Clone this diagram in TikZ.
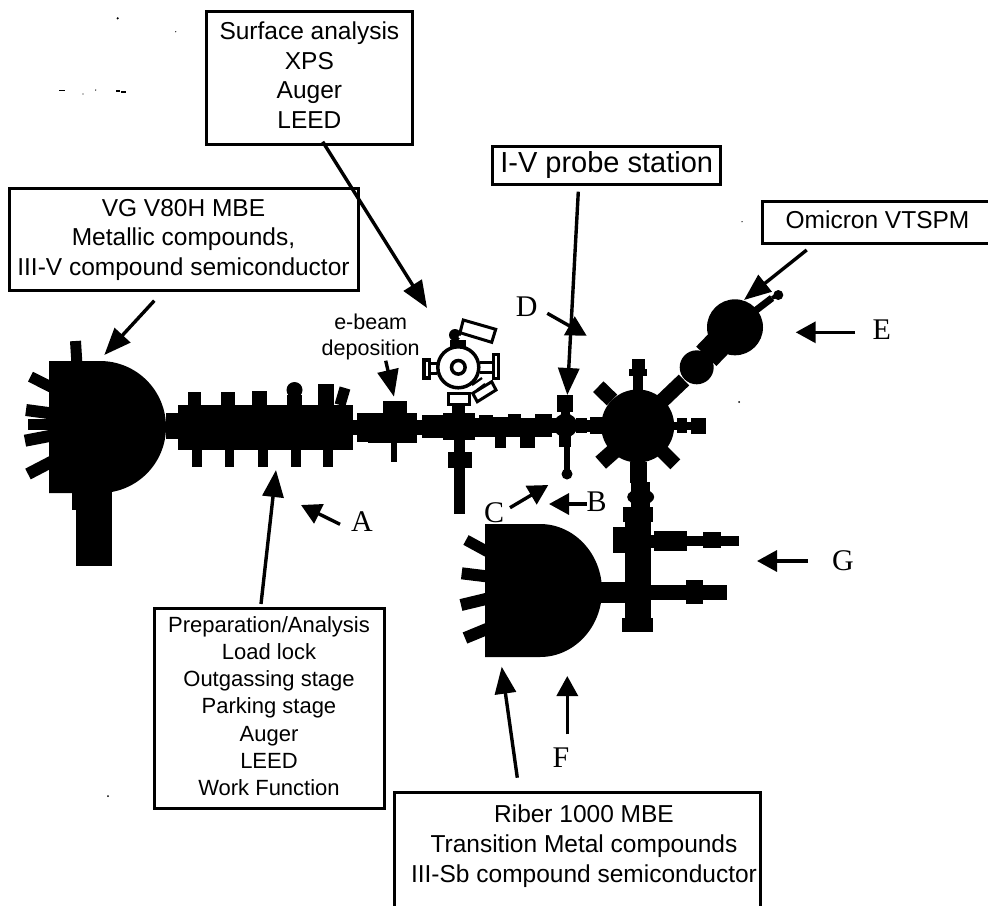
\documentclass[tikz,border=0pt]{standalone}
\usepackage{fontspec}
\setmainfont{Liberation Sans}
\newfontfamily\letterfont{Liberation Serif}
\usetikzlibrary{arrows.meta}
\tikzset{
  x=1pt,y=-1pt,
  infobox/.style={draw=black,line width=3pt,fill=white,inner sep=0pt,align=center},
  plaintext/.style={inner sep=0pt,align=center},
  bigtext/.style={font=\fontsize{24.5}{29.7}\selectfont},
  midtext/.style={font=\fontsize{22}{27.2}\selectfont},
  letter/.style={font=\letterfont\fontsize{30}{30}\selectfont,inner sep=0pt},
  pointer/.style={line width=3.4pt,-{Triangle[length=27pt,width=21pt]}},
  shortpointer/.style={line width=3.4pt,-{Triangle[length=20pt,width=21pt]}},
  port/.style={line width=#1,black,line cap=butt},
  outline/.style={draw=black,line width=3pt,fill=white},
  speck/.style={fill=black},
}
\begin{document}
\begin{tikzpicture}
\useasboundingbox (0,0) rectangle (988,905);
\clip (0,0) rectangle (988,905);
% ---------- VG chamber ----------
\fill (49,361) -- (100,361) .. controls (136.5,361) and (166,390.5) .. (166,427)
  .. controls (166,463.5) and (136.5,493) .. (100,493) -- (49,493) -- cycle;
\draw[port=11pt] (75.5,341) -- (77,365);
\draw[port=11pt] (30.5,376.7) -- (52,387.5);
\draw[port=12pt] (26,410) -- (52,413.5);
\draw[port=11pt] (28,424.7) -- (52,424.7);
\draw[port=12pt] (25,440.7) -- (52,435.5);
\draw[port=12pt] (28,474) -- (52,461.5);
\fill (76,490) rectangle (111.5,566);
\fill (72,490) rectangle (80,510);
% preparation line
\fill (166,413) rectangle (178,439);
\fill (178,405) rectangle (353,450);
\fill (188,392) rectangle (201,406);
\fill (221,392) rectangle (235,406);
\fill (252,391) rectangle (267,406);
\fill (287,395) rectangle (302,406);
\fill (294.5,390) circle[radius=8pt];
\fill (318,384) rectangle (334,406);
\draw[port=11pt] (345,388) -- (340,405);
\fill (192,449) rectangle (202,467);
\fill (225,449) rectangle (234,467);
\fill (258,449) rectangle (268,467);
\fill (291,449) rectangle (301,467);
\fill (323,449) rectangle (333,467);
% main tube
\fill (353,420) rectangle (357,435);
\fill (357,413) rectangle (368,442);
\fill (368,413) rectangle (417,443);
\fill (383,401) rectangle (407,414);
\fill (391,442) rectangle (397,462);
\fill (417,420) rectangle (422,435);
\fill (422,415) rectangle (443,438);
\fill (443,413) rectangle (475,440);
\fill (452,402) rectangle (465,414);
\fill (454,439) rectangle (465,453);
\fill (448,452) rectangle (472,468);
\fill (454,467) rectangle (465,514);
\fill (475,418) rectangle (479,437);
\fill (479,415) rectangle (493,437);
\fill (493,417) rectangle (508,437);
\fill (495,436) rectangle (506,448);
\fill (508,414) rectangle (521,437);
\fill (520,418) rectangle (535,437);
\fill (520,436) rectangle (535,448);
\fill (535,414) rectangle (552,437);
\fill (552,418) rectangle (558,433);
\fill (565.5,425.5) circle[radius=12pt];
\fill (557,395) rectangle (573,412);
\fill (561,410) rectangle (570,416);
\fill (559,435) rectangle (571,447);
\fill (564,446) rectangle (570,473);
\fill (567,474) circle[radius=5.5pt];
\fill (576,418) rectangle (587,433);
\fill (587,420) rectangle (592,432);
\fill (590,417) rectangle (605,434);
% central round chamber
\fill (637.7,426) circle[radius=36.5pt];
\fill (633,372) rectangle (643,392);
\fill (629,369) rectangle (647,376);
\fill (632,359) rectangle (645,370);
\draw[port=15pt] (598.3,386.7) -- (612,400);
\draw[port=16pt] (600.7,462.7) -- (615,450);
\draw[port=14pt] (675.3,464.3) -- (660,449);
\fill (670,422) rectangle (678,430);
\fill (677,418) rectangle (687,433);
\fill (686,422) rectangle (692,430);
\fill (691,418) rectangle (706,434);
% branch to Omicron
\draw[port=15pt] (662,401) -- (684,380);
\fill (696.7,367.3) circle[radius=17pt];
\draw[port=28pt] (706.3,356.3) -- (722,340);
\fill (735,327.3) circle[radius=28pt];
\draw[port=7pt] (755,311) -- (772,298);
\draw[port=4pt] (772,298) -- (778,295);
\fill (778.3,295) circle[radius=5pt];
% column to Riber
\fill (630,462) rectangle (647,483);
\fill (631,482) rectangle (650,510);
\fill (640.7,497) ellipse[x radius=13.5pt,y radius=8pt];
\fill (623,507) rectangle (653,522);
\fill (625,521) rectangle (651,619);
\fill (622,618) rectangle (653,632);
\fill (613,527) rectangle (626,553);
\fill (650,535) rectangle (654,548);
\fill (654,531) rectangle (687,551);
\fill (687,536) rectangle (703,546);
\fill (703,532) rectangle (721,548);
\fill (721,536) rectangle (739,546);
\fill (650,585) rectangle (686,600);
\fill (686,580) rectangle (703,604);
\fill (703,585) rectangle (727,600);
\fill (601,582) rectangle (626,603);
% Riber chamber
\fill (485,524) -- (540,524) .. controls (574.2,524) and (602,553.8) .. (602,590.5)
  .. controls (602,627.2) and (574.2,657) .. (540,657) -- (485,657) -- cycle;
\draw[port=11pt] (466,540) -- (488,552);
\draw[port=12pt] (461.7,573.3) -- (488,576.5);
\draw[port=12pt] (461,605) -- (488,598.5);
\draw[port=12pt] (465,638) -- (488,628.5);
% surface-analysis chamber (drawn open)
\fill (452,402) rectangle (465,414);
\draw[black,line width=3.5pt,fill=white] (458.3,367.3) circle[radius=20.5pt];
\draw[black,line width=3.5pt] (458.3,367.3) circle[radius=6.8pt];
\draw[outline,line width=3.5pt] (424,360) rectangle (429.5,378);
\draw[black,line width=3pt] (430,363.5) -- (437,363.5) (430,373) -- (437,373);
\draw[outline,line width=3pt] (493,354) rectangle (498,378);
\draw[black,line width=3pt] (480,362) -- (492,362) (480,372) -- (492,372);
\draw[outline] (448,393) rectangle (469,404);
\draw[outline] (472.7,393.3) -- (491.7,381.7) -- (496,390) -- (477.3,401.7) -- cycle;
\draw[black,line width=2.2pt] (472,385) -- (482,378) (477,390) -- (485,384);
\fill (450,340) rectangle (466,347);
\fill (455,335) circle[radius=6pt];
\fill[white] (460,337) circle[radius=1.6pt];
\draw[outline] (463.3,320) -- (495.7,329.3) -- (491.7,342.3) -- (460,332.7) -- cycle;
% ---------- Boxes ----------
\node[infobox,minimum width=206.7pt,minimum height=133pt] (surface) at (309.4,77.5) {};
\node[plaintext,bigtext] (surfacetext) at (309.4,75)
  {Surface analysis\\XPS\\Auger\\LEED};
\node[infobox,bigtext,minimum width=349pt,minimum height=101.7pt] (vg) at (183.5,239.8)
  {VG V80H MBE\\Metallic compounds,\\III-V compound semiconductor};
\node[infobox,font=\fontsize{29}{32}\selectfont,minimum width=228pt,minimum height=38pt] (iv) at (606.7,165) {I-V probe station};
\node[bigtext,inner sep=0pt,anchor=base] (omicron) at (877.5,228) {Omicron VTSPM};
\draw[black,line width=3pt] (992,201) -- (762.7,201) -- (762.7,243) -- (992,243);
\node[infobox,minimum width=230pt,minimum height=199.7pt] (prep) at (269,708.8) {};
\node[plaintext,midtext] (preptext) at (269,706)
  {Preparation/Analysis\\Load lock\\Outgassing stage\\Parking stage\\Auger\\LEED\\Work Function};
\node[plaintext,bigtext] (riber) at (584,846)
  {Riber 1000 MBE\\Transition Metal compounds\\III-Sb compound semiconductor};
\draw[black,line width=3pt] (394,910) -- (394,792) -- (760,792) -- (760,910);
\node[font=\fontsize{21.5}{26}\selectfont,inner sep=0pt,anchor=base] (ebeam) at (370.7,329) {e-beam};
\node[font=\fontsize{21.5}{26}\selectfont,inner sep=0pt,anchor=base] (depo) at (370.7,355) {deposition};
% ---------- Letters ----------
\node[letter] (A) at (362,521.7) {A};
\node[letter] (B) at (596.7,501.7) {B};
\node[letter] (C) at (494,512.7) {C};
\node[letter] (D) at (526.7,306.7) {D};
\node[letter] (E) at (881.7,330) {E};
\node[letter] (F) at (561,757.3) {F};
\node[letter] (G) at (843,561) {G};
% ---------- Arrow end points ----------
\coordinate (tsurf) at (427,308);
\coordinate (tvg) at (104.3,355);
\coordinate (tprep) at (276,470);
\coordinate (tdep) at (394,396.7);
\coordinate (tiv) at (567.3,395);
\coordinate (tomi) at (744,300);
\coordinate (trib) at (501.7,666.7);
\coordinate (tA) at (301,505);
\coordinate (tB) at (549,504);
\coordinate (tC) at (548.3,485);
\coordinate (tD) at (586.7,335.7);
\coordinate (tE) at (795.7,332.3);
\coordinate (tF) at (567.3,676);
\coordinate (tG) at (757,561);
\coordinate (ssurf) at (322.7,141.7);
\coordinate (svg) at (154.3,300.7);
\coordinate (sprep) at (261,604);
\coordinate (sdep) at (385.7,360.7);
\coordinate (siv) at (578.3,191.7);
\coordinate (somi) at (806.7,250);
\coordinate (srib) at (517.3,777.7);
\coordinate (sA) at (340,524.3);
\coordinate (sB) at (586.7,504);
\coordinate (sC) at (510,507.7);
\coordinate (sD) at (547.3,313.3);
\coordinate (sE) at (855,332.3);
\coordinate (sF) at (567.3,734.3);
\coordinate (sG) at (808,561);
\draw[pointer] (ssurf) -- (tsurf);
\draw[pointer] (svg) -- (tvg);
\draw[pointer] (sprep) -- (tprep);
\draw[pointer] (sdep) -- (tdep);
\draw[pointer] (siv) -- (tiv);
\draw[pointer] (somi) -- (tomi);
\draw[pointer] (srib) -- (trib);
\draw[shortpointer] (sA) -- (tA);
\draw[shortpointer] (sB) -- (tB);
\draw[shortpointer] (sC) -- (tC);
\draw[shortpointer] (sD) -- (tD);
\draw[shortpointer] (sE) -- (tE);
\draw[shortpointer] (sF) -- (tF);
\draw[shortpointer] (sG) -- (tG);
% ---------- Specks ----------
\fill[speck] (117.7,18.3) circle[radius=1.2pt];
\fill[speck] (175.7,31.7) circle[radius=0.6pt];
\fill[speck] (59,89.5) rectangle (65,91);
\fill[speck] (83,94) circle[radius=0.6pt];
\fill[speck] (95.7,90) circle[radius=0.7pt];
\fill[speck] (116,90) rectangle (120,91.5);
\fill[speck] (121,91) rectangle (126,92.5);
\fill[speck] (108,796) circle[radius=1pt];
\fill[speck] (739,402) circle[radius=1pt];
\fill[speck] (742,221.7) circle[radius=0.7pt];
\end{tikzpicture}
\end{document}
